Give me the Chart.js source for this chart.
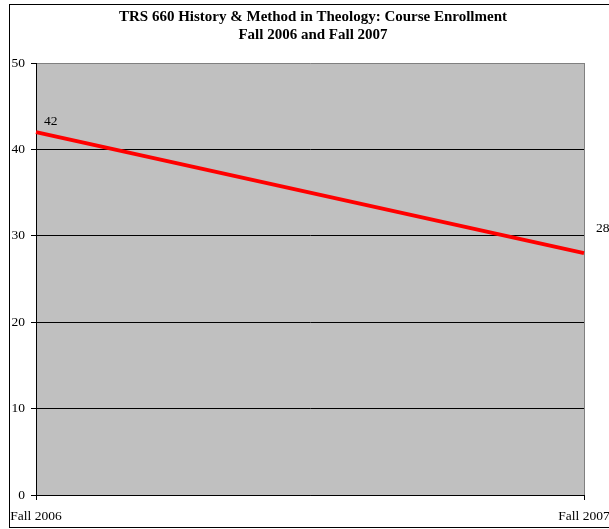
<!DOCTYPE html>
<html>
<head>
<meta charset="utf-8">
<script src="https://cdn.jsdelivr.net/npm/chart.js@4/dist/chart.umd.min.js"></script>
<style>
  html, body { margin: 0; padding: 0; background: #fff; }
  #wrap { width: 609px; height: 529px; }
</style>
</head>
<body>
<div id="wrap"><canvas id="myChart" width="609" height="529"></canvas></div>
<script>
// Chart data
const terms = ['Fall 2006', 'Fall 2007'];
const enrollment = [42, 28];
const titleLines = ['TRS 660 History & Method in Theology: Course Enrollment', 'Fall 2006 and Fall 2007'];

const serif = "'Liberation Serif', 'Times New Roman', serif";

// gray plot background, outer frame and the two-line title
const backdrop = {
  id: 'backdrop',
  beforeDraw(chart) {
    const { ctx, chartArea: a } = chart;
    ctx.save();
    ctx.strokeStyle = '#000';
    ctx.lineWidth = 1;
    ctx.strokeRect(9.5, 4.5, 640, 523);
    ctx.fillStyle = '#c0c0c0';
    ctx.fillRect(a.left, a.top, a.right - a.left, a.bottom - a.top);
    ctx.font = 'bold 15px ' + serif;
    ctx.fillStyle = '#000';
    ctx.textAlign = 'center';
    ctx.textBaseline = 'middle';
    titleLines.forEach((t, i) => ctx.fillText(t, 313, 17 + i * 18));
    ctx.restore();
  }
};

// value labels next to the end points
const valueLabels = {
  id: 'valueLabels',
  afterDatasetsDraw(chart) {
    const { ctx } = chart;
    const pts = chart.getDatasetMeta(0).data;
    const offs = [[8, -11], [12, -25]];
    ctx.save();
    ctx.font = '13.5px ' + serif;
    ctx.fillStyle = '#000';
    ctx.textAlign = 'left';
    ctx.textBaseline = 'middle';
    pts.forEach((p, i) => {
      ctx.fillText(String(enrollment[i]), p.x + offs[i][0], p.y + offs[i][1]);
    });
    ctx.restore();
  }
};

new Chart(document.getElementById('myChart'), {
  type: 'line',
  data: {
    labels: terms,
    datasets: [{
      data: enrollment,
      borderColor: '#ff0000',
      borderWidth: 4,
      pointRadius: 0,
      tension: 0
    }]
  },
  options: {
    responsive: false,
    animation: false,
    layout: { padding: { left: 0, right: 25, top: 63, bottom: 0 } },
    plugins: {
      legend: { display: false },
      tooltip: { enabled: false },
      title: { display: false }
    },
    scales: {
      x: {
        offset: false,
        afterFit(s) { s.height = 34; s.paddingLeft = 0; s.paddingRight = 0; },
        grid: {
          display: true,
          drawOnChartArea: true,
          color: ctx => ctx.index === 1 ? '#808080' : '#000',
          tickColor: '#000',
          tickLength: 5
        },
        border: { display: true, color: '#000' },
        ticks: {
          color: '#000',
          font: { family: serif, size: 13.5 },
          padding: 8,
          maxRotation: 0,
          autoSkip: false
        }
      },
      y: {
        min: 0,
        max: 50,
        afterFit(s) { s.width = 36; s.paddingTop = 0; s.paddingBottom = 0; },
        grid: {
          color: ctx => ctx.tick && ctx.tick.value === 50 ? '#808080' : '#000',
          tickColor: '#000',
          tickLength: 5
        },
        border: { display: true, color: '#000' },
        ticks: {
          stepSize: 10,
          color: '#000',
          font: { family: serif, size: 13.5 },
          padding: 6
        }
      }
    }
  },
  plugins: [backdrop, valueLabels]
});
</script>
</body>
</html>
